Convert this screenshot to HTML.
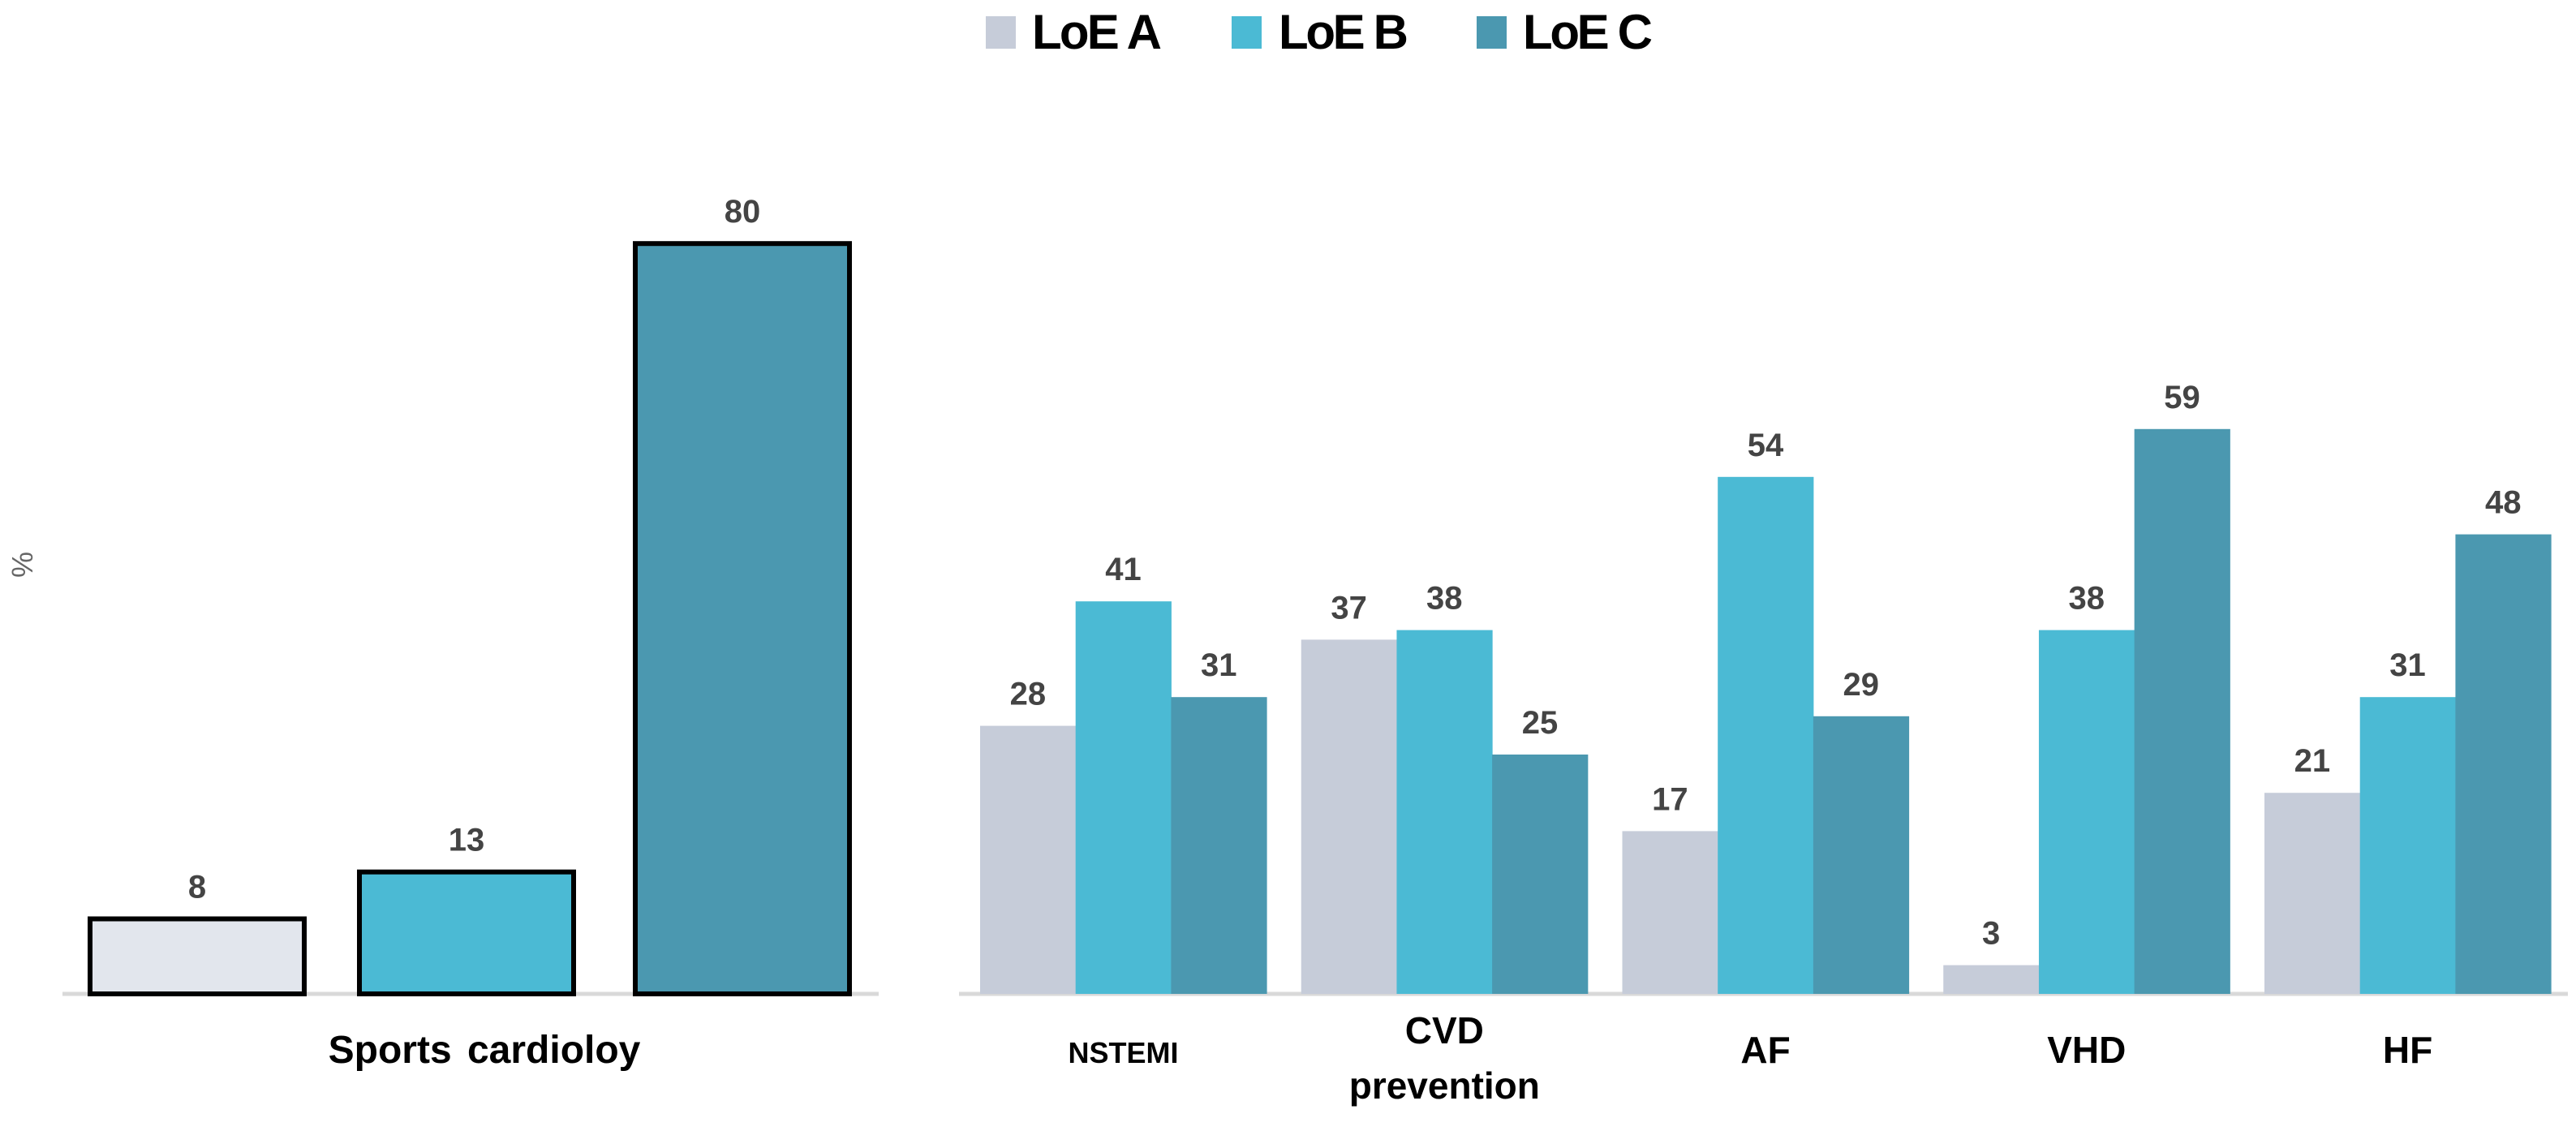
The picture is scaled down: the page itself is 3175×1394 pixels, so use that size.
<!DOCTYPE html>
<html><head><meta charset="utf-8"><style>
html,body{margin:0;padding:0;background:#fff;}
svg{display:block;font-family:"Liberation Sans Narrow","Liberation Sans",sans-serif;}
</style></head><body>
<svg id="chart" width="3175" height="1394" viewBox="0 0 3175 1394">
<g>
 <rect x="1215" y="20" width="37" height="40" fill="#c6ccd9"/>
 <text x="1272" y="60" font-size="60" font-weight="bold" fill="#000" textLength="160">LoE A</text>
 <rect x="1518" y="20" width="37" height="40" fill="#4bbad4"/>
 <text x="1576" y="60" font-size="60" font-weight="bold" fill="#000" textLength="160">LoE B</text>
 <rect x="1820" y="20" width="37" height="40" fill="#4b98b0"/>
 <text x="1877" y="60" font-size="60" font-weight="bold" fill="#000" textLength="160">LoE C</text>
</g>
<text x="40" y="696" font-size="36" fill="#666" text-anchor="middle" transform="rotate(-90 40 696)">%</text>
<g id="left"></g>
<g id="right"></g>
</svg>
<script>
const leftCategory = "Sports cardioloy";
const leftValues = [8, 13, 80];
const rightCategories = ["NSTEMI", "CVD prevention", "AF", "VHD", "HF"];
const seriesA = [28, 37, 17, 3, 21];
const seriesB = [41, 38, 54, 38, 31];
const seriesC = [31, 25, 29, 59, 48];

const NS = "http://www.w3.org/2000/svg";
const base = 1225;
function mk(tag, attrs, parent){const e=document.createElementNS(NS,tag);for(const k in attrs)e.setAttribute(k,attrs[k]);parent.appendChild(e);return e;}

const L = document.getElementById('left');
const yL = v => base - v * 11.56;
const lx = [111, 443, 783], lw = 264;
const leftFill = ["#e2e6ed", "#4bbad4", "#4b98b0"];
const ax1 = mk('line',{x1:77,x2:1083,y1:base,y2:base,stroke:'#d9d9d9','stroke-width':5},L);


leftValues.forEach((v,i)=>{
  const r = mk('rect',{x:lx[i],y:yL(v),width:lw,height:base-yL(v),fill:leftFill[i],stroke:'#000','stroke-width':6},L);
  
  
  const t = mk('text',{x:lx[i]+lw/2,y:yL(v)-26,'font-size':40,'font-weight':'bold',fill:'#444','text-anchor':'middle'},L);
  t.textContent = v;
  
  
});
const lc = mk('text',{x:597,y:1310,'font-size':48,'font-weight':'bold',fill:'#000','text-anchor':'middle','word-spacing':'6'},L);
lc.textContent = leftCategory;



const R = document.getElementById('right');
const yR = v => base - v * 11.8;
const g0 = 1208, pitch = 395.75, bw = 117.7;
const cols = ["#c6ccd9", "#4bbad4", "#4b98b0"];
const ax2 = mk('line',{x1:1182,x2:3165,y1:base,y2:base,stroke:'#d9d9d9','stroke-width':5},R);


[seriesA, seriesB, seriesC].forEach((s,si)=>{
  s.forEach((v,ci)=>{
    const x = g0 + ci*pitch + si*bw;
    const r = mk('rect',{x:x,y:yR(v),width:bw+0.5,height:base-yR(v),fill:cols[si]},R);
    
    
    const t = mk('text',{x:x+bw/2,y:yR(v)-26,'font-size':40,'font-weight':'bold',fill:'#444','text-anchor':'middle'},R);
    t.textContent = v;
    
    
  });
});
rightCategories.forEach((c,ci)=>{
  const cx = g0 + ci*pitch + 1.5*bw;
  const words = c.split(' ');
  const small = c === "NSTEMI";
  const t = mk('text',{x:cx,y:words.length>1?1286:1310,'font-size':small?36:46,'font-weight':'bold',fill:'#000','text-anchor':'middle'},R);
  
  
  words.forEach((w,wi)=>{
    const sp = mk('tspan',{x:cx,dy:wi?68:0},t);
    sp.textContent = w;
  });
});
</script>
</body></html>
